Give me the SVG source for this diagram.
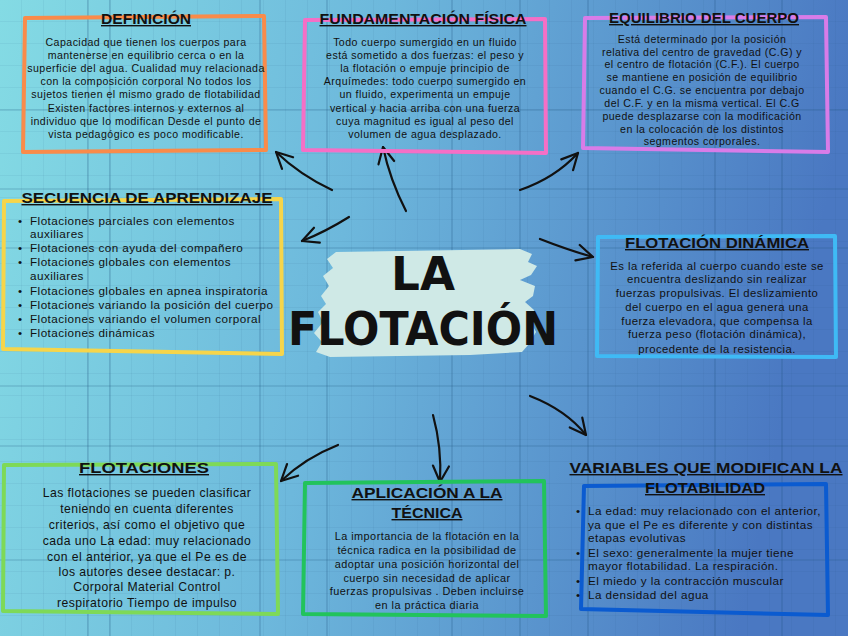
<svg xmlns="http://www.w3.org/2000/svg" width="848" height="636" viewBox="0 0 848 636">
<defs>
<linearGradient id="bg" x1="0" y1="0" x2="1" y2="0.15">
<stop offset="0" stop-color="#84dbe4"/>
<stop offset="0.45" stop-color="#6db8dc"/>
<stop offset="1" stop-color="#4a78c2"/>
</linearGradient>
<pattern id="grid" width="22" height="22" patternUnits="userSpaceOnUse">
<path d="M22 0 V22 M0 22 H22" fill="none" stroke="#1d4f7a" stroke-opacity="0.13" stroke-width="1"/>
</pattern>
<marker id="ah" viewBox="0 0 20 20" refX="18" refY="10" markerWidth="20" markerHeight="20" markerUnits="userSpaceOnUse" orient="auto">
<path d="M2 2 L18 10 L2 18" fill="none" stroke="#111" stroke-width="2.2" stroke-linecap="round" stroke-linejoin="round"/>
</marker>
<style>
.box{fill:none;stroke-width:4;stroke-linejoin:round;stroke-linecap:round}
.t{font-family:"Liberation Sans",Arial,sans-serif;font-size:14px;font-weight:bold;fill:#111;text-anchor:middle;text-decoration:underline}
.b{font-family:"Liberation Sans",Arial,sans-serif;font-size:10.6px;fill:#111;text-anchor:middle;letter-spacing:0.45px}
.l{font-family:"Liberation Sans",Arial,sans-serif;font-size:11.7px;fill:#111;letter-spacing:0.45px}
.c{fill:none;stroke:#111;stroke-width:2.2;stroke-linecap:round}
.big{font-family:"DejaVu Sans","Liberation Sans",sans-serif;font-weight:bold;font-size:46px;fill:#111;text-anchor:middle}
.gl{stroke:#1d4f7a;stroke-opacity:0.3;stroke-width:1.2}
</style>
</defs>
<rect width="848" height="636" fill="url(#bg)"/>
<rect width="848" height="636" fill="url(#grid)"/>
<g class="gl">
<path d="M88 0V636 M110 0V636 M260 0V636 M327 0V636 M452 0V636 M520 0V636 M588 0V636 M715 0V636 M782 0V636"/>
<path d="M0 189H848 M0 248H848 M0 386H848 M0 446H848 M0 110H848 M0 560H848"/>
</g>

<g id="center">
<path d="M336 252 L520 249 L532 254 L528 262 L537 266 L531 275 L520 280 L535 286 L533 296 L525 302 L534 310 L531 322 L536 332 L529 344 L522 352 L470 355 L330 357 L316 352 L322 342 L314 333 L323 322 L318 312 L326 304 L321 296 L329 286 L323 276 L333 268 L327 259 Z" fill="#cfe9e6"/>
<text class="big" x="423" y="290" textLength="64" lengthAdjust="spacingAndGlyphs">LA</text>
<text class="big" x="423" y="345" textLength="270" lengthAdjust="spacingAndGlyphs">FLOTACIÓN</text>
</g>

<g id="connectors">
<path class="c" d="M332 190 Q300 175 276 152" marker-end="url(#ah)"/>
<path class="c" d="M406 211 Q390 180 383 147" marker-end="url(#ah)"/>
<path class="c" d="M520 190 Q555 178 578 153" marker-end="url(#ah)"/>
<path class="c" d="M349 217 Q325 232 302 241" marker-end="url(#ah)"/>
<path class="c" d="M540 239 Q568 250 593 257" marker-end="url(#ah)"/>
<path class="c" d="M530 396 Q566 410 586 435" marker-end="url(#ah)"/>
<path class="c" d="M433 415 Q442 448 440 482" marker-end="url(#ah)"/>
<path class="c" d="M338 445 Q305 458 281 481" marker-end="url(#ah)"/>
</g>

<g id="definicion">
<path class="box" stroke="#f98b4a" d="M25 18 L264 16 L266 150 L23 152 Z"/>
<text class="t" x="146" y="24" textLength="90" lengthAdjust="spacingAndGlyphs">DEFINICIÓN</text>
<text class="b" x="146" y="46">Capacidad que tienen los cuerpos para</text>
<text class="b" x="146" y="59">mantenerse en equilibrio cerca o en la</text>
<text class="b" x="146" y="72">superficie del agua. Cualidad muy relacionada</text>
<text class="b" x="146" y="85">con la composición corporal No todos los</text>
<text class="b" x="146" y="98">sujetos tienen el mismo grado de flotabilidad</text>
<text class="b" x="146" y="112">Existen factores internos y externos al</text>
<text class="b" x="146" y="125">individuo que lo modifican Desde el punto de</text>
<text class="b" x="146" y="138">vista pedagógico es poco modificable.</text>
</g>

<g id="fundamentacion">
<path class="box" stroke="#f56fc6" d="M305 20 L545 19 L546 153 L303 150 Z"/>
<text class="t" x="423" y="24" textLength="207" lengthAdjust="spacingAndGlyphs">FUNDAMENTACIÓN FÍSICA</text>
<text class="b" x="425" y="46">Todo cuerpo sumergido en un fluido</text>
<text class="b" x="425" y="59">está sometido a dos fuerzas: el peso y</text>
<text class="b" x="425" y="72">la flotación o empuje principio de</text>
<text class="b" x="425" y="85">Arquímedes: todo cuerpo sumergido en</text>
<text class="b" x="425" y="98">un fluido, experimenta un empuje</text>
<text class="b" x="425" y="112">vertical y hacia arriba con una fuerza</text>
<text class="b" x="425" y="125">cuya magnitud es igual al peso del</text>
<text class="b" x="425" y="138">volumen de agua desplazado.</text>
</g>

<g id="equilibrio">
<path class="box" stroke="#d87ce8" d="M585 18 L826 17 L828 152 L583 148 Z"/>
<text class="t" x="704" y="23" textLength="190" lengthAdjust="spacingAndGlyphs">EQUILIBRIO DEL CUERPO</text>
<text class="b" x="702" y="43">Está determinado por la posición</text>
<text class="b" x="702" y="56">relativa del centro de gravedad (C.G) y</text>
<text class="b" x="702" y="68">el centro de flotación (C.F.). El cuerpo</text>
<text class="b" x="702" y="81">se mantiene en posición de equilibrio</text>
<text class="b" x="702" y="94">cuando el C.G. se encuentra por debajo</text>
<text class="b" x="702" y="107">del C.F. y en la misma vertical. El C.G</text>
<text class="b" x="702" y="120">puede desplazarse con la modificación</text>
<text class="b" x="702" y="133">en la colocación de los distintos</text>
<text class="b" x="702" y="145">segmentos corporales.</text>
</g>

<g id="secuencia">
<path class="box" stroke="#f6d54a" d="M4 201 L281 199 L282 354 L3 349 Z"/>
<text class="t" x="147" y="203" textLength="251" lengthAdjust="spacingAndGlyphs">SECUENCIA DE APRENDIZAJE</text>
<g class="l">
<text x="18" y="225">•</text><text x="30" y="225">Flotaciones parciales con elementos</text>
<text x="30" y="238">auxiliares</text>
<text x="18" y="252">•</text><text x="30" y="252">Flotaciones con ayuda del compañero</text>
<text x="18" y="266">•</text><text x="30" y="266">Flotaciones globales con elementos</text>
<text x="30" y="280">auxiliares</text>
<text x="18" y="295">•</text><text x="30" y="295">Flotaciones globales en apnea inspiratoria</text>
<text x="18" y="309">•</text><text x="30" y="309">Flotaciones variando la posición del cuerpo</text>
<text x="18" y="323">•</text><text x="30" y="323">Flotaciones variando el volumen corporal</text>
<text x="18" y="337">•</text><text x="30" y="337">Flotaciones dinámicas</text>
</g>
</g>

<g id="dinamica">
<path class="box" stroke="#3fbaf5" d="M598 237 L835 236 L836 357 L597 356 Z"/>
<text class="t" x="717" y="248" textLength="184" lengthAdjust="spacingAndGlyphs">FLOTACIÓN DINÁMICA</text>
<text class="b" x="717" y="270" style="font-size:11.3px">Es la referida al cuerpo cuando este se</text>
<text class="b" x="717" y="283" style="font-size:11.3px">encuentra deslizando sin realizar</text>
<text class="b" x="717" y="297" style="font-size:11.3px">fuerzas propulsivas. El deslizamiento</text>
<text class="b" x="717" y="311" style="font-size:11.3px">del cuerpo en el agua genera una</text>
<text class="b" x="717" y="325" style="font-size:11.3px">fuerza elevadora, que compensa la</text>
<text class="b" x="717" y="338" style="font-size:11.3px">fuerza peso (flotación dinámica),</text>
<text class="b" x="717" y="353" style="font-size:11.3px">procedente de la resistencia.</text>
</g>

<g id="flotaciones">
<path class="box" stroke="#7ed957" d="M4 465 L276 464 L278 614 L3 611 Z"/>
<text class="t" x="144" y="473" textLength="130" lengthAdjust="spacingAndGlyphs">FLOTACIONES</text>
<text class="b" x="147" y="497" style="font-size:12.2px">Las flotaciones se pueden clasificar</text>
<text class="b" x="147" y="513" style="font-size:12.2px">teniendo en cuenta diferentes</text>
<text class="b" x="147" y="529" style="font-size:12.2px">criterios, así como el objetivo que</text>
<text class="b" x="147" y="545" style="font-size:12.2px">cada uno La edad: muy relacionado</text>
<text class="b" x="147" y="561" style="font-size:12.2px">con el anterior, ya que el Pe es de</text>
<text class="b" x="147" y="576" style="font-size:12.2px">los autores desee destacar: p.</text>
<text class="b" x="147" y="591" style="font-size:12.2px">Corporal Material Control</text>
<text class="b" x="147" y="607" style="font-size:12.2px">respiratorio Tiempo de impulso</text>
</g>

<g id="aplicacion">
<path class="box" stroke="#22c35c" d="M305 483 L544 481 L546 616 L303 614 Z"/>
<text class="t" x="427" y="498" textLength="151" lengthAdjust="spacingAndGlyphs">APLICACIÓN A LA</text>
<text class="t" x="427" y="518" textLength="71" lengthAdjust="spacingAndGlyphs">TÉCNICA</text>
<text class="b" x="427" y="540" style="font-size:10.9px">La importancia de la flotación en la</text>
<text class="b" x="427" y="554" style="font-size:10.9px">técnica radica en la posibilidad de</text>
<text class="b" x="427" y="568" style="font-size:10.9px">adoptar una posición horizontal del</text>
<text class="b" x="427" y="582" style="font-size:10.9px">cuerpo sin necesidad de aplicar</text>
<text class="b" x="427" y="595" style="font-size:10.9px">fuerzas propulsivas . Deben incluirse</text>
<text class="b" x="427" y="609" style="font-size:10.9px">en la práctica diaria</text>
</g>

<g id="variables">
<path class="box" stroke="#0b5bd0" d="M584 486 L826 484 L828 615 L581 609 Z"/>
<text class="t" x="706" y="473" textLength="273" lengthAdjust="spacingAndGlyphs">VARIABLES QUE MODIFICAN LA</text>
<text class="t" x="705" y="493" textLength="120" lengthAdjust="spacingAndGlyphs">FLOTABILIDAD</text>
<g class="l">
<text x="576" y="515">•</text><text x="588" y="515">La edad: muy relacionado con el anterior,</text>
<text x="588" y="529">ya que el Pe es diferente y con distintas</text>
<text x="588" y="542">etapas evolutivas</text>
<text x="576" y="557">•</text><text x="588" y="557">El sexo: generalmente la mujer tiene</text>
<text x="588" y="570">mayor flotabilidad. La respiración.</text>
<text x="576" y="585">•</text><text x="588" y="585">El miedo y la contracción muscular</text>
<text x="576" y="599">•</text><text x="588" y="599">La densidad del agua</text>
</g>
</g>
</svg>
